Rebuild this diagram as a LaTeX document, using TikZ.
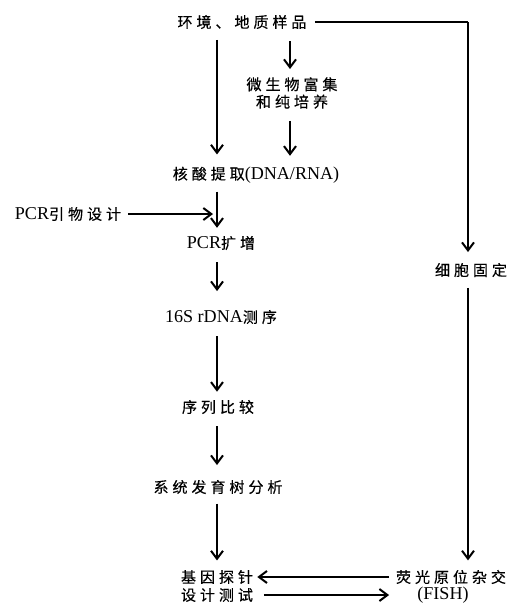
\documentclass[tikz,border=0pt]{standalone}
\usepackage{fontspec}
\setmainfont{Liberation Serif}[Scale=1.2]
\newfontfamily\cjk{Noto Sans CJK SC}[LetterSpace=26,FakeBold=0.35]
\newcommand{\zh}[1]{{\cjk #1}}
\usetikzlibrary{arrows.meta}
\begin{document}
\begin{tikzpicture}[x=0.75pt,y=-0.75pt,
  lbl/.style={inner sep=0pt,font=\fontsize{11.3}{13}\selectfont,align=center},
  arr/.style={line width=1.5pt,-{Straight Barb[length=6pt,width=9pt,line width=1.5pt]}},
  ln/.style={line width=1.5pt}]
\useasboundingbox (0,0) rectangle (514,607);
\node[lbl] (src) at (242,22) {\zh{环境、地质样品}};
\node[lbl] (enrich) at (292,93) {\zh{微生物富集}\\\zh{和纯培养}};
\node[lbl] (ext) at (256,175) {\zh{核酸提取}(DNA/RNA)};
\node[lbl] (primer) at (68,214) {PCR\zh{引物设计}};
\node[lbl] (pcr) at (221,243) {PCR\zh{扩增}};
\node[lbl] (seq) at (221,317) {16S rDNA\zh{测序}};
\node[lbl] (cmp) at (218,407) {\zh{序列比较}};
\node[lbl] (tree) at (218,487) {\zh{系统发育树分析}};
\node[lbl] (probe1) at (217,577) {\zh{基因探针}};
\node[lbl] (probe2) at (217,595) {\zh{设计测试}};
\node[lbl] (fish1) at (451,577) {\zh{荧光原位杂交}};
\node[lbl] (fish2) at (443,595) {(FISH)};
\node[lbl] (fix) at (471,270) {\zh{细胞固定}};
\coordinate (cL) at (217,0);
\coordinate (cM) at (290,0);
\coordinate (cR) at (468,0);
\coordinate (corner) at (468,22);
% left column
\draw[arr,shorten <=8pt,shorten >=9pt] (src.south -| cL) -- (ext.north -| cL);
\draw[arr,shorten <=9pt,shorten >=6pt] (src.south -| cM) -- (enrich.north -| cM);
\draw[arr,shorten <=9pt,shorten >=8pt] (enrich.south -| cM) -- (ext.north -| cM);
\draw[arr,shorten <=6pt,shorten >=6pt] (ext.south -| cL) -- (pcr.north -| cL);
\draw[arr,shorten <=5pt,shorten >=3pt] (primer.east) -- (primer.east -| cL);
\draw[arr,shorten <=9pt,shorten >=14pt] (pcr.south -| cL) -- (seq.north -| cL);
\draw[arr,shorten <=9pt,shorten >=6pt] (seq.south -| cL) -- (cmp.north -| cL);
\draw[arr,shorten <=9pt,shorten >=11pt] (cmp.south -| cL) -- (tree.north -| cL);
\draw[arr,shorten <=7pt,shorten >=7pt] (tree.south -| cL) -- (probe1.north -| cL);
% right path
\draw[ln,shorten <=6pt] (src.east) -- (corner);
\draw[arr,shorten >=8pt] (corner) -- (fix.north -| cR);
\draw[arr,shorten <=8pt,shorten >=7pt] (fix.south -| cR) -- (fish1.north -| cR);
% bottom
\draw[arr,shorten <=5pt,shorten >=3pt] (fish1.west) -- (probe1.east);
\draw[arr,shorten <=8pt,shorten >=5pt] (probe2.east) -- (fish2.west -| fish1.west);
\end{tikzpicture}
\end{document}
